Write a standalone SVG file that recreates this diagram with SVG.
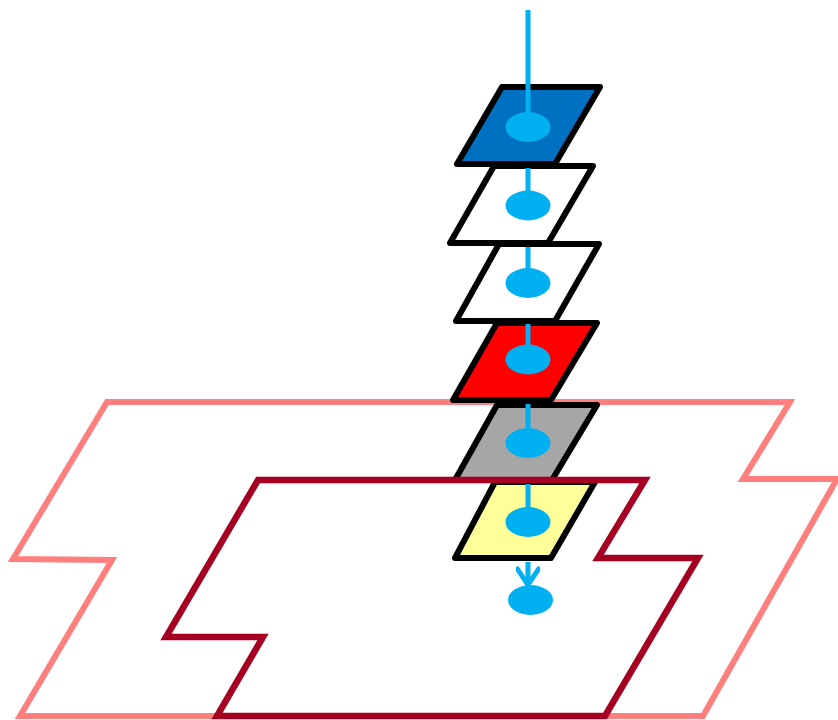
<svg xmlns="http://www.w3.org/2000/svg" width="838" height="720" viewBox="0 0 838 720">
<defs>
<style>
.layer{stroke:#000;stroke-width:6;stroke-linejoin:round}
.dot{fill:#00B0F0}
.conn{stroke:#00B0F0;stroke-width:5;fill:none}
</style>
<marker id="arr" viewBox="0 0 24 24" refX="19" refY="12" markerWidth="24" markerHeight="24" markerUnits="userSpaceOnUse" orient="auto">
<path d="M3,1.5 L19,12 L3,22.5" fill="none" stroke="#00B0F0" stroke-width="5" stroke-linecap="round" stroke-linejoin="round"/>
</marker>
</defs>
<rect width="838" height="720" fill="#fff"/>
<g id="outer-region">
<polygon points="107,402 790,402 743,479 837,479 703,716 20,716 112,560 13,559" fill="none" stroke="#FF7F7F" stroke-width="6"/>
</g>
<g id="layer6"><polygon class="layer" points="495,482 595,482 551,558 455,558" fill="#FFFF99"/><ellipse class="dot" cx="528" cy="522" rx="22.5" ry="15"/></g>
<g id="layer5"><polygon class="layer" points="497,405 597,405 552,480 455,480" fill="#A6A6A6"/><ellipse class="dot" cx="528" cy="443" rx="22.5" ry="15"/></g>
<g id="layer4"><polygon class="layer" points="497,323 597,323 551,400 453,400" fill="#FF0000"/><ellipse class="dot" cx="528" cy="359.5" rx="22.5" ry="15"/></g>
<g id="layer3"><polygon class="layer" points="499,244 599,244 555,321 456,321" fill="#FFFFFF"/><ellipse class="dot" cx="528" cy="283" rx="22.5" ry="15"/></g>
<g id="layer2"><polygon class="layer" points="494,166 593,166 548,243 450,243" fill="#FFFFFF"/><ellipse class="dot" cx="528" cy="205.5" rx="22.5" ry="15"/></g>
<g id="layer1"><polygon class="layer" points="502,87 600,87 555,164 457,164" fill="#0070C0"/><ellipse class="dot" cx="528" cy="127" rx="22.5" ry="15"/></g>
<g id="inner-region">
<polygon points="258,480 645,480 598,558 698,558 605,716 217,716 263,637 166,637" fill="none" stroke="#A50021" stroke-width="6.5"/>
</g>
<g id="target"><ellipse class="dot" cx="530.5" cy="600" rx="22.5" ry="15"/></g>
<g id="connectors">
<line class="conn" x1="528" y1="10" x2="528" y2="115"/>
<line class="conn" x1="528" y1="168" x2="528" y2="193"/>
<line class="conn" x1="528" y1="247" x2="528" y2="271"/>
<line class="conn" x1="528" y1="324" x2="528" y2="347"/>
<line class="conn" x1="528" y1="404" x2="528" y2="430"/>
<line class="conn" x1="528" y1="484" x2="528" y2="510"/>
<line class="conn" x1="528" y1="562" x2="528" y2="585" marker-end="url(#arr)"/>
</g>
</svg>
